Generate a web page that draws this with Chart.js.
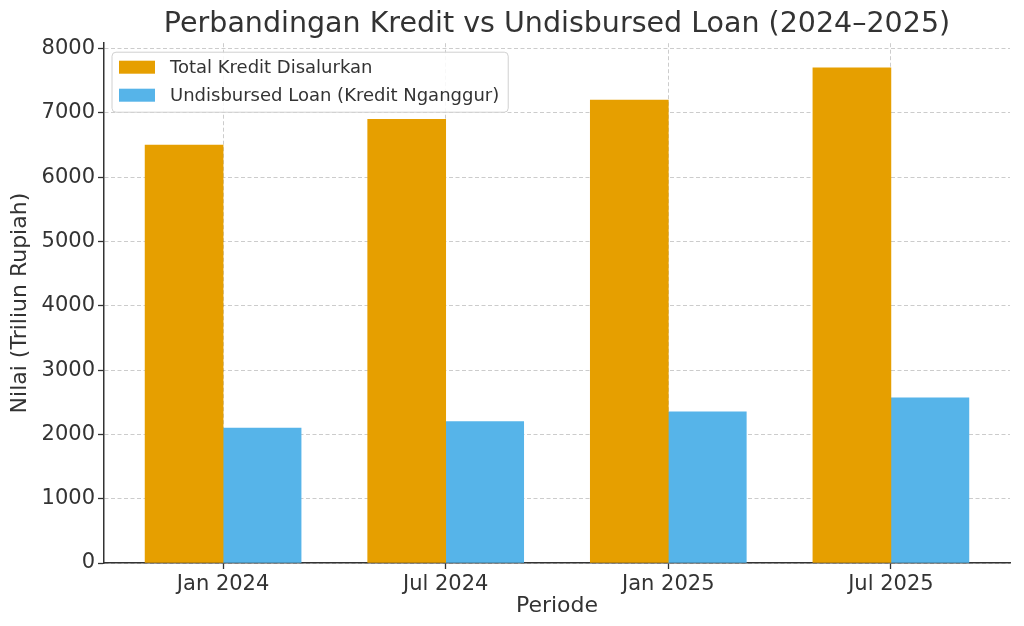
<!DOCTYPE html>
<html>
<head>
<meta charset="utf-8">
<script src="https://cdn.jsdelivr.net/npm/chart.js@4"></script>
<style>
  html, body { margin: 0; padding: 0; background: #fff; }
  #wrap { width: 1024px; height: 626px; }
</style>
</head>
<body>
<div id="wrap"><canvas id="myChart"></canvas></div>
<script>
const periods = ['Jan 2024', 'Jul 2024', 'Jan 2025', 'Jul 2025'];
const totalKredit = [6500, 6900, 7200, 7700];
const undisbursed = [2100, 2200, 2350, 2570];
const yTicks = [0, 1000, 2000, 3000, 4000, 5000, 6000, 7000, 8000];

const FONT = 'DejaVu Sans';
const TEXT = '#333';

// legend drawn inside the plot, top-left, like the original
const boxLegend = {
  id: 'boxLegend',
  afterDraw(chart) {
    const { ctx, chartArea } = chart;
    const x0 = chartArea.left + 8;
    const y0 = chartArea.top + 9;
    ctx.save();
    ctx.font = '18px "' + FONT + '"';
    let maxW = 0;
    chart.data.datasets.forEach(ds => { maxW = Math.max(maxW, ctx.measureText(ds.label).width); });
    const w = 58 + maxW + 9;
    const h = 60;
    ctx.beginPath();
    ctx.roundRect(x0, y0, w, h, 4);
    ctx.fillStyle = 'rgba(255,255,255,0.85)';
    ctx.fill();
    ctx.strokeStyle = '#d0d0d0';
    ctx.lineWidth = 1;
    ctx.stroke();
    chart.data.datasets.forEach((ds, i) => {
      const cy = y0 + 15 + i * 28;
      ctx.fillStyle = ds.backgroundColor;
      ctx.fillRect(x0 + 7, cy - 6.5, 36, 13);
      ctx.fillStyle = TEXT;
      ctx.textBaseline = 'middle';
      ctx.fillText(ds.label, x0 + 58, cy + 1);
    });
    ctx.restore();
  }
};

const data = {
  datasets: [
    {
      label: 'Total Kredit Disalurkan',
      data: totalKredit.map((v, i) => ({ x: i, y: v })),
      backgroundColor: '#E69F00',
      borderWidth: 0,
      barThickness: 78
    },
    {
      label: 'Undisbursed Loan (Kredit Nganggur)',
      data: undisbursed.map((v, i) => ({ x: i, y: v })),
      backgroundColor: '#56B4E9',
      borderWidth: 0,
      barThickness: 78
    }
  ]
};

const gridOpts = {
  offset: false,
  color: 'rgba(0,0,0,0.2)',
  lineWidth: 1,
  tickColor: TEXT,
  tickLength: 6,
  tickWidth: 1.3,
  tickBorderDash: []
};

new Chart(document.getElementById('myChart'), {
  type: 'bar',
  data: data,
  options: {
    responsive: true,
    maintainAspectRatio: false,
    animation: false,
    layout: { padding: { right: 14 } },
    plugins: {
      legend: { display: false },
      tooltip: { enabled: false },
      title: {
        display: true,
        text: 'Perbandingan Kredit vs Undisbursed Loan (2024–2025)',
        fullSize: false,
        color: TEXT,
        font: { family: FONT, size: 28.5, weight: 'normal' },
        padding: { top: 7, bottom: 2 }
      }
    },
    scales: {
      x: {
        type: 'linear',
        offset: false,
        min: -0.535,
        max: 3.535,
        afterBuildTicks: s => { s.ticks = periods.map((p, i) => ({ value: i })); },
        grid: gridOpts,
        border: { display: true, color: TEXT, width: 1.5, dash: [4, 2.5] },
        ticks: {
          autoSkip: false,
          maxRotation: 0,
          padding: 3,
          color: TEXT,
          font: { family: FONT, size: 21 },
          callback: v => periods[v] ?? ''
        },
        title: {
          display: true,
          text: 'Periode',
          color: TEXT,
          font: { family: FONT, size: 22 },
          padding: { top: 0, bottom: 7 }
        },
        afterFit: s => { s.height = 63; }
      },
      y: {
        min: 0,
        max: 8085,
        afterBuildTicks: s => { s.ticks = yTicks.map(v => ({ value: v })); },
        grid: gridOpts,
        border: { display: true, color: TEXT, width: 1.5, dash: [4, 2.5] },
        ticks: {
          padding: 3,
          color: TEXT,
          font: { family: FONT, size: 21 },
          callback: v => String(v)
        },
        title: {
          display: true,
          text: 'Nilai (Triliun Rupiah)',
          color: TEXT,
          font: { family: FONT, size: 22 },
          padding: { top: 7, bottom: 0 }
        },
        afterFit: s => { s.width = 104; }
      }
    }
  },
  plugins: [boxLegend]
});
</script>
</body>
</html>
